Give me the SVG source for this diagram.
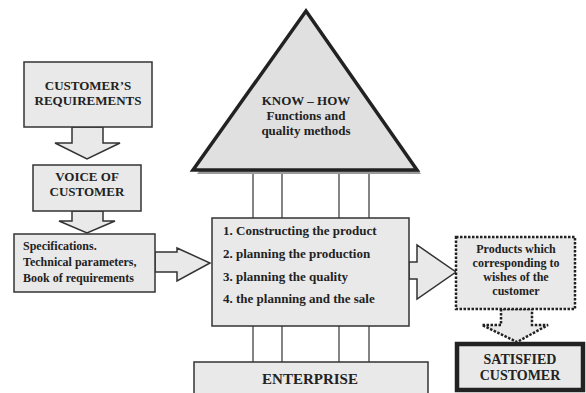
<svg xmlns="http://www.w3.org/2000/svg" width="586" height="393" viewBox="0 0 586 393" font-family="'Liberation Serif', 'DejaVu Serif', serif">
  <style>
    .box { fill: #e9e9e9; stroke: #333; stroke-width: 1.5; }
    .arrow { fill: #e9e9e9; stroke: #333; stroke-width: 1.5; stroke-linejoin: miter; }
    .dotted { fill: #e9e9e9; stroke: #222; stroke-width: 2.5; stroke-dasharray: 2.5 1.5; }
    .thick { fill: #e9e9e9; stroke: #222; stroke-width: 4.5; }
    .link { stroke: #333; stroke-width: 1.2; fill: none; }
    text { font-family: 'Liberation Serif', 'Times New Roman', serif; font-weight: bold; fill: #222; }
    .t13 { font-size: 13px; }
    .t12 { font-size: 12px; }
    .mid { text-anchor: middle; }
  </style>

  <!-- vertical ties between triangle, main block and enterprise bar -->
  <g id="connectors">
    <line class="link" x1="253" y1="170" x2="253" y2="218"/>
    <line class="link" x1="282" y1="170" x2="282" y2="218"/>
    <line class="link" x1="339" y1="170" x2="339" y2="218"/>
    <line class="link" x1="369" y1="170" x2="369" y2="218"/>
    <line class="link" x1="253" y1="326" x2="253" y2="362"/>
    <line class="link" x1="282" y1="326" x2="282" y2="362"/>
    <line class="link" x1="339" y1="326" x2="339" y2="362"/>
    <line class="link" x1="369" y1="326" x2="369" y2="362"/>
    <!-- block arrows -->
    <polygon class="arrow" points="72,127 103,127 103,143 120,143 87,159 55,143 72,143"/>
    <polygon class="arrow" points="72,211 103,211 103,221 115,221 87,233 59,221 72,221"/>
    <polygon class="arrow" points="155,252 177,252 177,248 210,263 177,281 177,272 155,272"/>
    <polygon class="arrow" points="409,262 417,262 417,245 456,272 417,299 417,279 409,279"/>
    <polygon class="dotted" points="501,309 501,325 482,325 517,342 548,325 532,325 532,309"/>
  </g>

  <g id="know-how">
    <polygon points="310,15 421,174 197,174" fill="#9a9a9a"/>
    <polygon points="306,11 417,170 193,170" fill="#e0e0e0" stroke="#222" stroke-width="3.5" stroke-linejoin="miter"/>
    <text class="t13 mid" x="306" y="105">KNOW – HOW</text>
    <text class="t13 mid" x="306" y="120">Functions and</text>
    <text class="t13 mid" x="306" y="135">quality methods</text>
  </g>

  <g id="customers-requirements">
    <rect class="box" x="24" y="62" width="128" height="65"/>
    <text class="t13 mid" x="88" y="90">CUSTOMER’S</text>
    <text class="t13 mid" x="88" y="105">REQUIREMENTS</text>
  </g>

  <g id="voice-of-customer">
    <rect class="box" x="33" y="165" width="108" height="46"/>
    <text class="t13 mid" x="87" y="181">VOICE OF</text>
    <text class="t13 mid" x="87" y="196">CUSTOMER</text>
  </g>

  <g id="specifications">
    <rect class="box" x="14" y="234" width="141" height="58"/>
    <text class="t12" x="23" y="250">Specifications.</text>
    <text class="t12" x="23" y="266">Technical parameters,</text>
    <text class="t12" x="23" y="282">Book of requirements</text>
  </g>

  <g id="planning">
    <rect class="box" x="212" y="218" width="197" height="108" stroke-width="2"/>
    <text class="t13" x="223" y="235">1. Constructing the product</text>
    <text class="t13" x="223" y="258">2. planning the production</text>
    <text class="t13" x="223" y="281">3. planning the quality</text>
    <text class="t13" x="223" y="303">4. the planning and the sale</text>
  </g>

  <g id="products">
    <rect class="dotted" x="456" y="237" width="119" height="72"/>
    <text class="t12 mid" x="516" y="253">Products which</text>
    <text class="t12 mid" x="516" y="267">corresponding to</text>
    <text class="t12 mid" x="516" y="281">wishes of the</text>
    <text class="t12 mid" x="516" y="295">customer</text>
  </g>

  <g id="satisfied-customer">
    <rect class="thick" x="457" y="344" width="126" height="46"/>
    <text class="t13 mid" x="520" y="364" style="font-size:14px">SATISFIED</text>
    <text class="t13 mid" x="520" y="380" style="font-size:14px">CUSTOMER</text>
  </g>

  <g id="enterprise">
    <rect class="box" x="194" y="362" width="234" height="40" stroke-width="3"/>
    <text class="t13 mid" x="310" y="384" style="font-size:15px">ENTERPRISE</text>
  </g>
</svg>
